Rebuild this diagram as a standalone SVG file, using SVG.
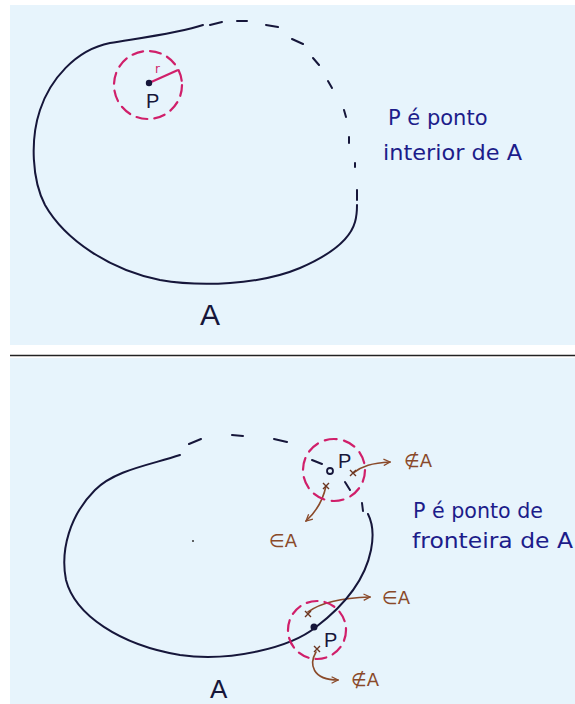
<svg xmlns="http://www.w3.org/2000/svg" width="575" height="704" viewBox="0 0 575 704">
<defs>
<style>
.bg{fill:#e7f4fc}
.curve{fill:none;stroke:#16163a;stroke-width:2;stroke-linecap:round}
.nb{fill:none;stroke:#d01f6a;stroke-width:2.2;stroke-linecap:round}
.arr{fill:none;stroke:#8a4a2a;stroke-width:1.6;stroke-linecap:round}
.hand{font-family:"DejaVu Sans","Liberation Sans",sans-serif;fill:#1c1c8a}
.mem{font-family:"DejaVu Sans","Liberation Sans",sans-serif;fill:#8a4a2a;font-size:18px}
.lbl{font-family:"Liberation Sans",Arial,sans-serif;fill:#16163a}
.cross{stroke:#6b3520;stroke-width:1.4;fill:none}
</style>
<marker id="ah" viewBox="0 0 10 10" refX="9" refY="5" markerWidth="8" markerHeight="8" orient="auto" markerUnits="userSpaceOnUse">
<polyline points="1,1 9,5 1,9" fill="none" stroke="#8a4a2a" stroke-width="1.6"/>
</marker>
</defs>
<rect width="575" height="704" fill="#ffffff"/>
<rect class="bg" x="10" y="5" width="565" height="340"/>
<rect class="bg" x="10" y="358" width="565" height="346"/>
<line x1="10" y1="355.5" x2="575" y2="355.5" stroke="#222" stroke-width="1.6"/>

<g id="connectors">
<path class="arr" d="M 353 473 C 362 466, 372 463, 390 462" marker-end="url(#ah)"/>
<path class="arr" d="M 326 486 C 323 500, 316 512, 306 521" marker-end="url(#ah)"/>
<path class="arr" d="M 308 612 C 320 603, 340 598, 370 597" marker-end="url(#ah)"/>
<path class="arr" d="M 316 652 C 309 664, 312 680, 338 680" marker-end="url(#ah)"/>
</g>

<g id="setA-top">
<path class="curve" d="M 203 25 C 180 33, 140 38, 110 43 C 75 50, 50 80, 40 110 C 30 140, 32 180, 45 205 C 65 240, 110 270, 160 280 C 200 287, 260 285, 300 268 C 330 255, 350 240, 355 222 C 357 215, 357 210, 357 205"/>
<path class="curve" d="M 210 25 L 222 22 M 237 21 L 247 21 M 266 25 L 278 27 M 292 39 L 303 44 M 313 58 L 319 65 M 328 81 L 332 88 M 344 110 L 346 117 M 349 137 L 349 143 M 355 163 L 355 167 M 357 190 L 357 200"/>
<text class="lbl" x="200" y="325" font-size="30">A</text>
</g>

<g id="P-interior">
<circle class="nb" cx="148" cy="85" r="34" stroke-dasharray="11 7"/>
<line x1="149" y1="83" x2="178" y2="70" stroke="#d01f6a" stroke-width="2.2"/>
<circle cx="149" cy="83" r="3.2" fill="#16163a"/>
<text x="155" y="73" font-family="DejaVu Sans,sans-serif" font-size="12" fill="#d01f6a">r</text>
<text class="lbl" x="146" y="108" font-size="20">P</text>
</g>

<g id="note-top">
<text class="hand" x="388" y="125" font-size="21">P é ponto</text>
<text class="hand" x="383" y="160" font-size="21" textLength="139" lengthAdjust="spacingAndGlyphs">interior de A</text>
</g>

<g id="setA-bottom">
<path class="curve" d="M 180 455 C 150 465, 115 470, 95 490 C 70 515, 60 550, 66 580 C 75 615, 120 645, 180 655 C 230 662, 290 648, 316 627 C 345 605, 365 580, 371 550 C 374 535, 372 522, 368 514"/>
<path class="curve" d="M 189 444 L 201 439 M 232 435 L 243 436 M 274 439 L 287 442 M 312 460 L 322 464 M 345 482 L 350 490 M 362 503 L 363 511"/>
<circle cx="193" cy="541" r="1" fill="#333"/>
<text class="lbl" x="210" y="698" font-size="26">A</text>
</g>

<g id="P-boundary-1">
<circle class="nb" cx="334" cy="470" r="31" stroke-dasharray="12 7.5"/>
<circle cx="330" cy="471" r="3" fill="none" stroke="#16163a" stroke-width="1.8"/>
<text class="lbl" x="338" y="468" font-size="20">P</text>
<path class="cross" d="M 350 470 l 6 6 M 356 470 l -6 6 M 323 483 l 6 6 M 329 483 l -6 6"/>
<text class="mem" x="404" y="467">∉A</text>
<text class="mem" x="269" y="547">∈A</text>
</g>

<g id="P-boundary-2">
<circle class="nb" cx="317" cy="630" r="29" stroke-dasharray="11 7"/>
<circle cx="314" cy="627" r="3.5" fill="#16163a"/>
<text class="lbl" x="324" y="647" font-size="20">P</text>
<path class="cross" d="M 305 611 l 6 6 M 311 611 l -6 6 M 314 646 l 6 6 M 320 646 l -6 6"/>
<text class="mem" x="382" y="604">∈A</text>
<text class="mem" x="351" y="686">∉A</text>
</g>

<g id="note-bottom">
<text class="hand" x="413" y="518" font-size="21" textLength="130" lengthAdjust="spacingAndGlyphs">P é ponto de</text>
<text class="hand" x="412" y="548" font-size="21" textLength="161" lengthAdjust="spacingAndGlyphs">fronteira de A</text>
</g>
</svg>
